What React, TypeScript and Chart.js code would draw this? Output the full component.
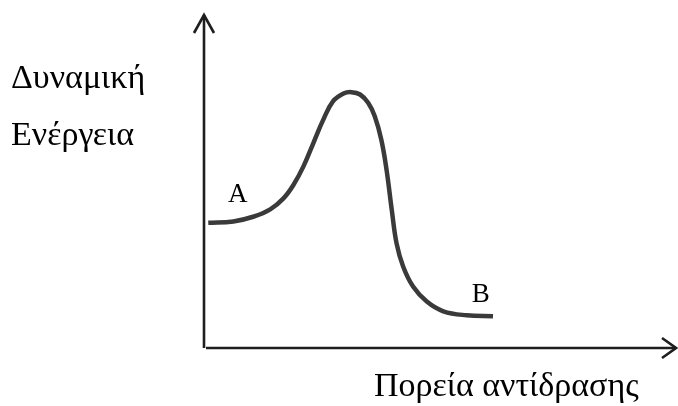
import React, { useEffect, useRef } from "react";
import { Chart, registerables } from "chart.js";

Chart.register(...registerables);

// Reaction coordinate (0-100) and potential energy (0-100)
const progress = [0.9, 6.2, 10.4, 14.0, 16.8, 18.9, 21.0, 23.1, 25.2, 27.3, 29.5, 31.2, 33.0, 34.7, 36.1, 37.5, 38.6, 39.7, 40.7, 42.1, 44.2, 47.1, 50.6, 55.5, 61.1];
const energy = [37.5, 37.9, 39.3, 41.5, 44.8, 48.8, 54.3, 61.3, 68.3, 73.9, 76.2, 76.6, 75.9, 73.4, 69.4, 62.3, 53.3, 41.3, 31.4, 24.4, 18.4, 13.9, 11.0, 9.8, 9.5];

const pointLabels = ["A", "B"];
const pointLabelX = [5.1, 56.6];
const pointLabelY = [43.7, 13.8];

const yAxisTitle = ["Δυναμική", "Ενέργεια"];
const xAxisTitle = "Πορεία αντίδρασης";

const SERIF = '"Liberation Serif", "DejaVu Serif", serif';

const axesPlugin = {
  id: "energyAxes",
  afterDraw(chart: any) {
    const { ctx, chartArea, scales } = chart;
    const { left, right, top, bottom } = chartArea;
    ctx.save();
    ctx.strokeStyle = "#1e1e1e";
    ctx.lineWidth = 2.6;
    ctx.lineCap = "butt";
    ctx.lineJoin = "miter";
    // y axis
    ctx.beginPath();
    ctx.moveTo(left, bottom);
    ctx.lineTo(left, top + 1);
    ctx.stroke();
    ctx.beginPath();
    ctx.moveTo(left - 10, top + 19);
    ctx.lineTo(left, top + 1);
    ctx.lineTo(left + 10, top + 19);
    ctx.stroke();
    // x axis
    ctx.beginPath();
    ctx.moveTo(left + 2, bottom);
    ctx.lineTo(right - 1, bottom);
    ctx.stroke();
    ctx.beginPath();
    ctx.moveTo(right - 15, bottom - 10);
    ctx.lineTo(right - 1, bottom);
    ctx.lineTo(right - 15, bottom + 10);
    ctx.stroke();

    ctx.fillStyle = "#000";
    ctx.textBaseline = "alphabetic";
    ctx.textAlign = "left";
    ctx.font = `34px ${SERIF}`;
    ctx.fillText(yAxisTitle[0], 11, top + 74);
    ctx.fillText(yAxisTitle[1], 11, top + 131);
    ctx.fillText(xAxisTitle, left + 170, bottom + 48);

    ctx.font = `27px ${SERIF}`;
    for (let i = 0; i < pointLabels.length; i++) {
      const px = scales.x.getPixelForValue(pointLabelX[i]);
      const py = scales.y.getPixelForValue(pointLabelY[i]);
      ctx.fillText(pointLabels[i], px, py);
    }
    ctx.restore();
  },
};

export default function App() {
  const ref = useRef<HTMLCanvasElement>(null);
  useEffect(() => {
    if (!ref.current) return;
    const chart = new Chart(ref.current, {
      type: "line",
      data: {
        datasets: [
          {
            data: progress.map((x, i) => ({ x, y: energy[i] })),
            borderColor: "#3a3a3a",
            borderWidth: 4.5,
            pointRadius: 0,
            fill: false,
            tension: 0.4,
          },
        ],
      },
      options: {
        responsive: false,
        animation: false,
        devicePixelRatio: 1,
        layout: { padding: { left: 204, right: 1, top: 14, bottom: 58 } },
        scales: {
          x: { type: "linear", min: 0, max: 100, display: false },
          y: { type: "linear", min: 0, max: 100, display: false },
        },
        plugins: {
          legend: { display: false },
          tooltip: { enabled: false },
          title: { display: false },
        },
      },
      plugins: [axesPlugin],
    } as any);
    return () => chart.destroy();
  }, []);
  return (
    <div style={{ position: "absolute", left: 0, top: 0, width: 678, height: 406, background: "#fff" }}>
      <canvas ref={ref} width={678} height={406} style={{ display: "block" }} />
    </div>
  );
}
